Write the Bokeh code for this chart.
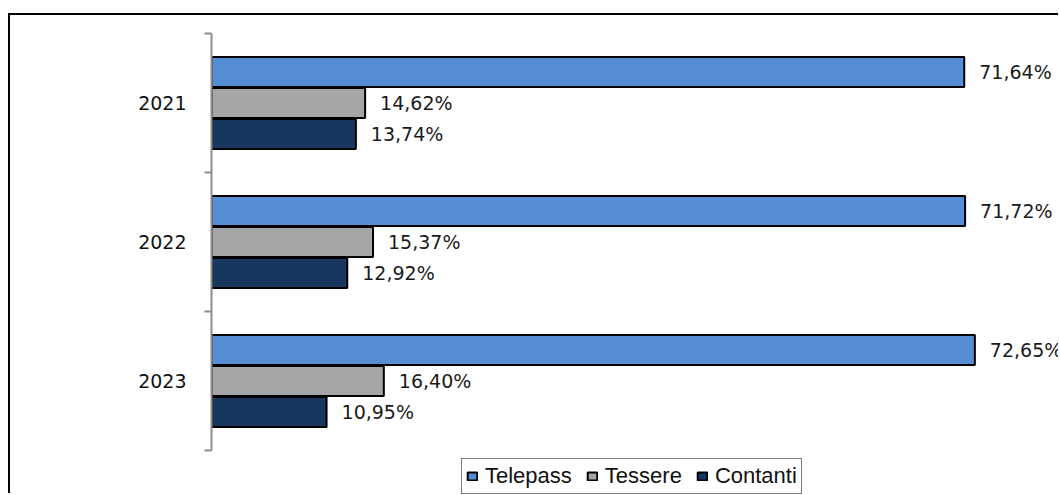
from bokeh.plotting import figure
from bokeh.models import ColumnDataSource, Range1d, FixedTicker, Legend, LegendItem
from bokeh.transform import dodge
from bokeh.core.properties import value
from bokeh.embed import file_html
from bokeh.resources import INLINE

# ---- data ----
years = ["2021", "2022", "2023"]
telepass = [71.64, 71.72, 72.65]
tessere = [14.62, 15.37, 16.40]
contanti = [13.74, 12.92, 10.95]
series_names = ["Telepass", "Tessere", "Contanti"]
colors = ["#558ED5", "#A6A6A6", "#17375E"]

def fmt(v):
    return f"{v:.2f}".replace(".", ",") + "%"

n = len(years)
ypos = [n - i - 0.5 for i in range(n)]

src = ColumnDataSource(dict(
    ypos=ypos,
    telepass=telepass, tessere=tessere, contanti=contanti,
    telepass_lbl=[fmt(v) for v in telepass],
    tessere_lbl=[fmt(v) for v in tessere],
    contanti_lbl=[fmt(v) for v in contanti],
))

# layout: frame spans from the axis top down to the page bottom; the
# category axis itself covers 417 px, the rest is room for the legend
frame_h = 462
axis_h = 417
y_start = -(frame_h - axis_h) / (axis_h / n)

p = figure(width=1050, height=480, output_backend="svg", toolbar_location=None,
           x_range=Range1d(0, 80.8), y_range=Range1d(y_start, n),
           min_border_left=201, min_border_right=0, min_border_top=18, min_border_bottom=0)
p.styles = {"border-top": "2px solid #000", "border-left": "2px solid #000",
            "margin-top": "13px", "margin-left": "8px"}
p.outline_line_color = None
p.xgrid.grid_line_color = None
p.ygrid.grid_line_color = None
p.xaxis.visible = False
p.background_fill_color = "white"
p.border_fill_color = "white"

yax = p.yaxis[0]
yax.bounds = (0, n)
yax.ticker = FixedTicker(ticks=ypos, minor_ticks=[float(k) for k in range(n + 1)])
yax.major_label_overrides = {yp: y for yp, y in zip(ypos, years)}
yax.major_tick_line_color = None
yax.major_tick_out = 0
yax.major_tick_in = 0
yax.minor_tick_out = 7
yax.minor_tick_in = 0
yax.minor_tick_line_color = "#8C8C8C"
yax.minor_tick_line_width = 2
yax.axis_line_color = "#8C8C8C"
yax.axis_line_width = 2
yax.major_label_standoff = 18
yax.major_label_text_font = "DejaVu Sans"
yax.major_label_text_font_size = "19px"
yax.major_label_text_color = "#111111"

off = 0.223
h = 0.215
keys = ["telepass", "tessere", "contanti"]
offsets = [off, 0.0, -off]
renderers = []
for key, o, c in zip(keys, offsets, colors):
    r = p.hbar(y=dodge("ypos", o, range=p.y_range), left=0, right=key, height=h,
               fill_color=c, line_color="black", line_width=2, source=src)
    renderers.append(r)
    p.text(x=key, y=dodge("ypos", o, range=p.y_range), text=key + "_lbl", source=src,
           x_offset=15, text_baseline="middle", text_align="left",
           text_font=value("DejaVu Sans"), text_font_size="19px", text_color="#1a1a1a")

legend = Legend(items=[LegendItem(label=nm, renderers=[r]) for nm, r in zip(series_names, renderers)],
                orientation="horizontal", location=(250, 1))
legend.label_text_font = "Liberation Sans"
legend.label_text_font_size = "22px"
legend.label_text_color = "#111111"
legend.glyph_width = 12
legend.glyph_height = 10
legend.label_standoff = 7
legend.spacing = 14
legend.padding = 4
legend.margin = 0
legend.border_line_color = "black"
legend.border_line_width = 1.5
legend.background_fill_alpha = 1
p.add_layout(legend, "center")

open("out.html", "w").write(file_html(p, INLINE))
